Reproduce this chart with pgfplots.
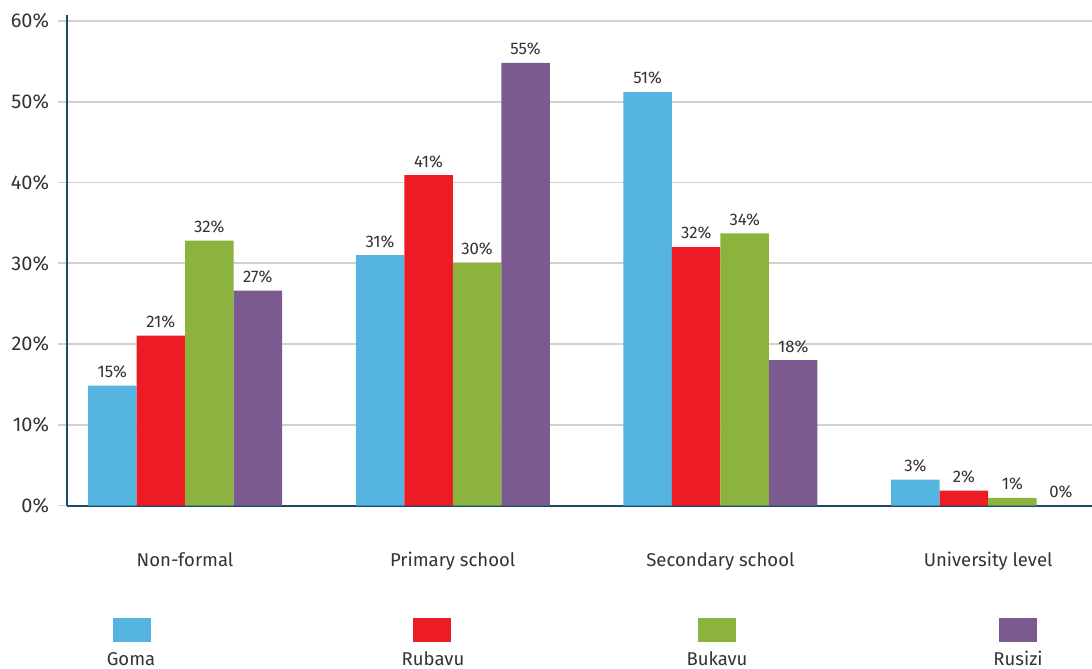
\documentclass[border=0pt]{standalone}
\usepackage{pgfplots}
\pgfplotsset{compat=1.18}
\usepackage{fontspec}
\setmainfont{Fira Sans}
\definecolor{goma}{HTML}{56B4E1}
\definecolor{rubavu}{HTML}{ED1C24}
\definecolor{bukavu}{HTML}{8DB33F}
\definecolor{rusizi}{HTML}{7B5B8F}
\definecolor{axisc}{HTML}{1A4B6B}
\definecolor{gridc}{HTML}{D3D1CB}
\definecolor{txt}{HTML}{333333}
\begin{document}
\begin{tikzpicture}[x=1bp,y=1bp]
\path[use as bounding box] (0,0) rectangle (546,334);
\begin{axis}[
  at={(33.5bp,81.25bp)}, anchor=south west,
  scale only axis, width=512.5bp, height=245.25bp,
  xmin=-0.441, xmax=3.388, ymin=0, ymax=60.74,
  axis x line=bottom, axis y line=left,
  axis line style={-, draw=axisc, line width=1bp},
  ybar=0pt, bar width=24.25bp,
  ymajorgrids, grid style={draw=gridc, line width=0.8bp},
  ytick={0,10,20,30,40,50,60},
  yticklabel={\pgfmathprintnumber{\tick}\%},
  yticklabel style={font=\fontsize{10}{12}\selectfont, color=txt, xshift=-1bp},
  xtick={0,1,2,3},
  xticklabels={Non-formal, Primary school, Secondary school, University level},
  xticklabel style={font=\fontsize{9.3}{12}\selectfont, color=txt, anchor=base, yshift=-26bp},
  xtick style={draw=none},
  ytick style={draw=gridc, line width=0.8bp},
  tick align=outside, major tick length=4.5bp,
  extra x ticks={-0.3624,0.3624,0.6376,1.3624,1.6376,2.3624,2.6376,3.3624},
  extra x tick labels={},
  extra x tick style={grid=none, major tick length=13bp, tick style={draw=gridc, line width=0.8bp}},
  point meta=explicit symbolic,
  nodes near coords={\pgfplotspointmeta\%},
  every node near coord/.append style={font=\fontsize{8.4}{10}\selectfont, color=txt, inner sep=3.6bp},
  /pgf/number format/assume math mode=true,
  clip=false,
]
\addplot[fill=goma, draw=none] table[meta=l] {
x y l
0 14.85 15
1 31.0 31
2 51.2 51
3 3.2 3
};
\addplot[fill=rubavu, draw=none] table[meta=l] {
x y l
0 21.05 21
1 40.9 41
2 32.0 32
3 1.85 2
};
\addplot[fill=bukavu, draw=none] table[meta=l] {
x y l
0 32.8 32
1 30.05 30
2 33.7 34
3 0.95 1
};
\addplot[fill=rusizi, draw=none] table[meta=l] {
x y l
0 26.6 27
1 54.8 55
2 18.0 18
3 0 0
};
\end{axis}
% legend
\fill[goma]   (56.5,13) rectangle (75.5,25);
\fill[rubavu] (206.5,13) rectangle (225.5,25);
\fill[bukavu] (349,13) rectangle (368,25);
\fill[rusizi] (499.5,13) rectangle (518.5,25);
\begin{scope}[every node/.style={anchor=base, inner sep=0pt, font=\fontsize{9.3}{12}\selectfont, text=txt}]
\node at (65.5,1.5) {Goma};
\node at (216.5,1.5) {Rubavu};
\node at (358.5,1.5) {Bukavu};
\node at (509,1.5) {Rusizi};
\end{scope}
\end{tikzpicture}
\end{document}
